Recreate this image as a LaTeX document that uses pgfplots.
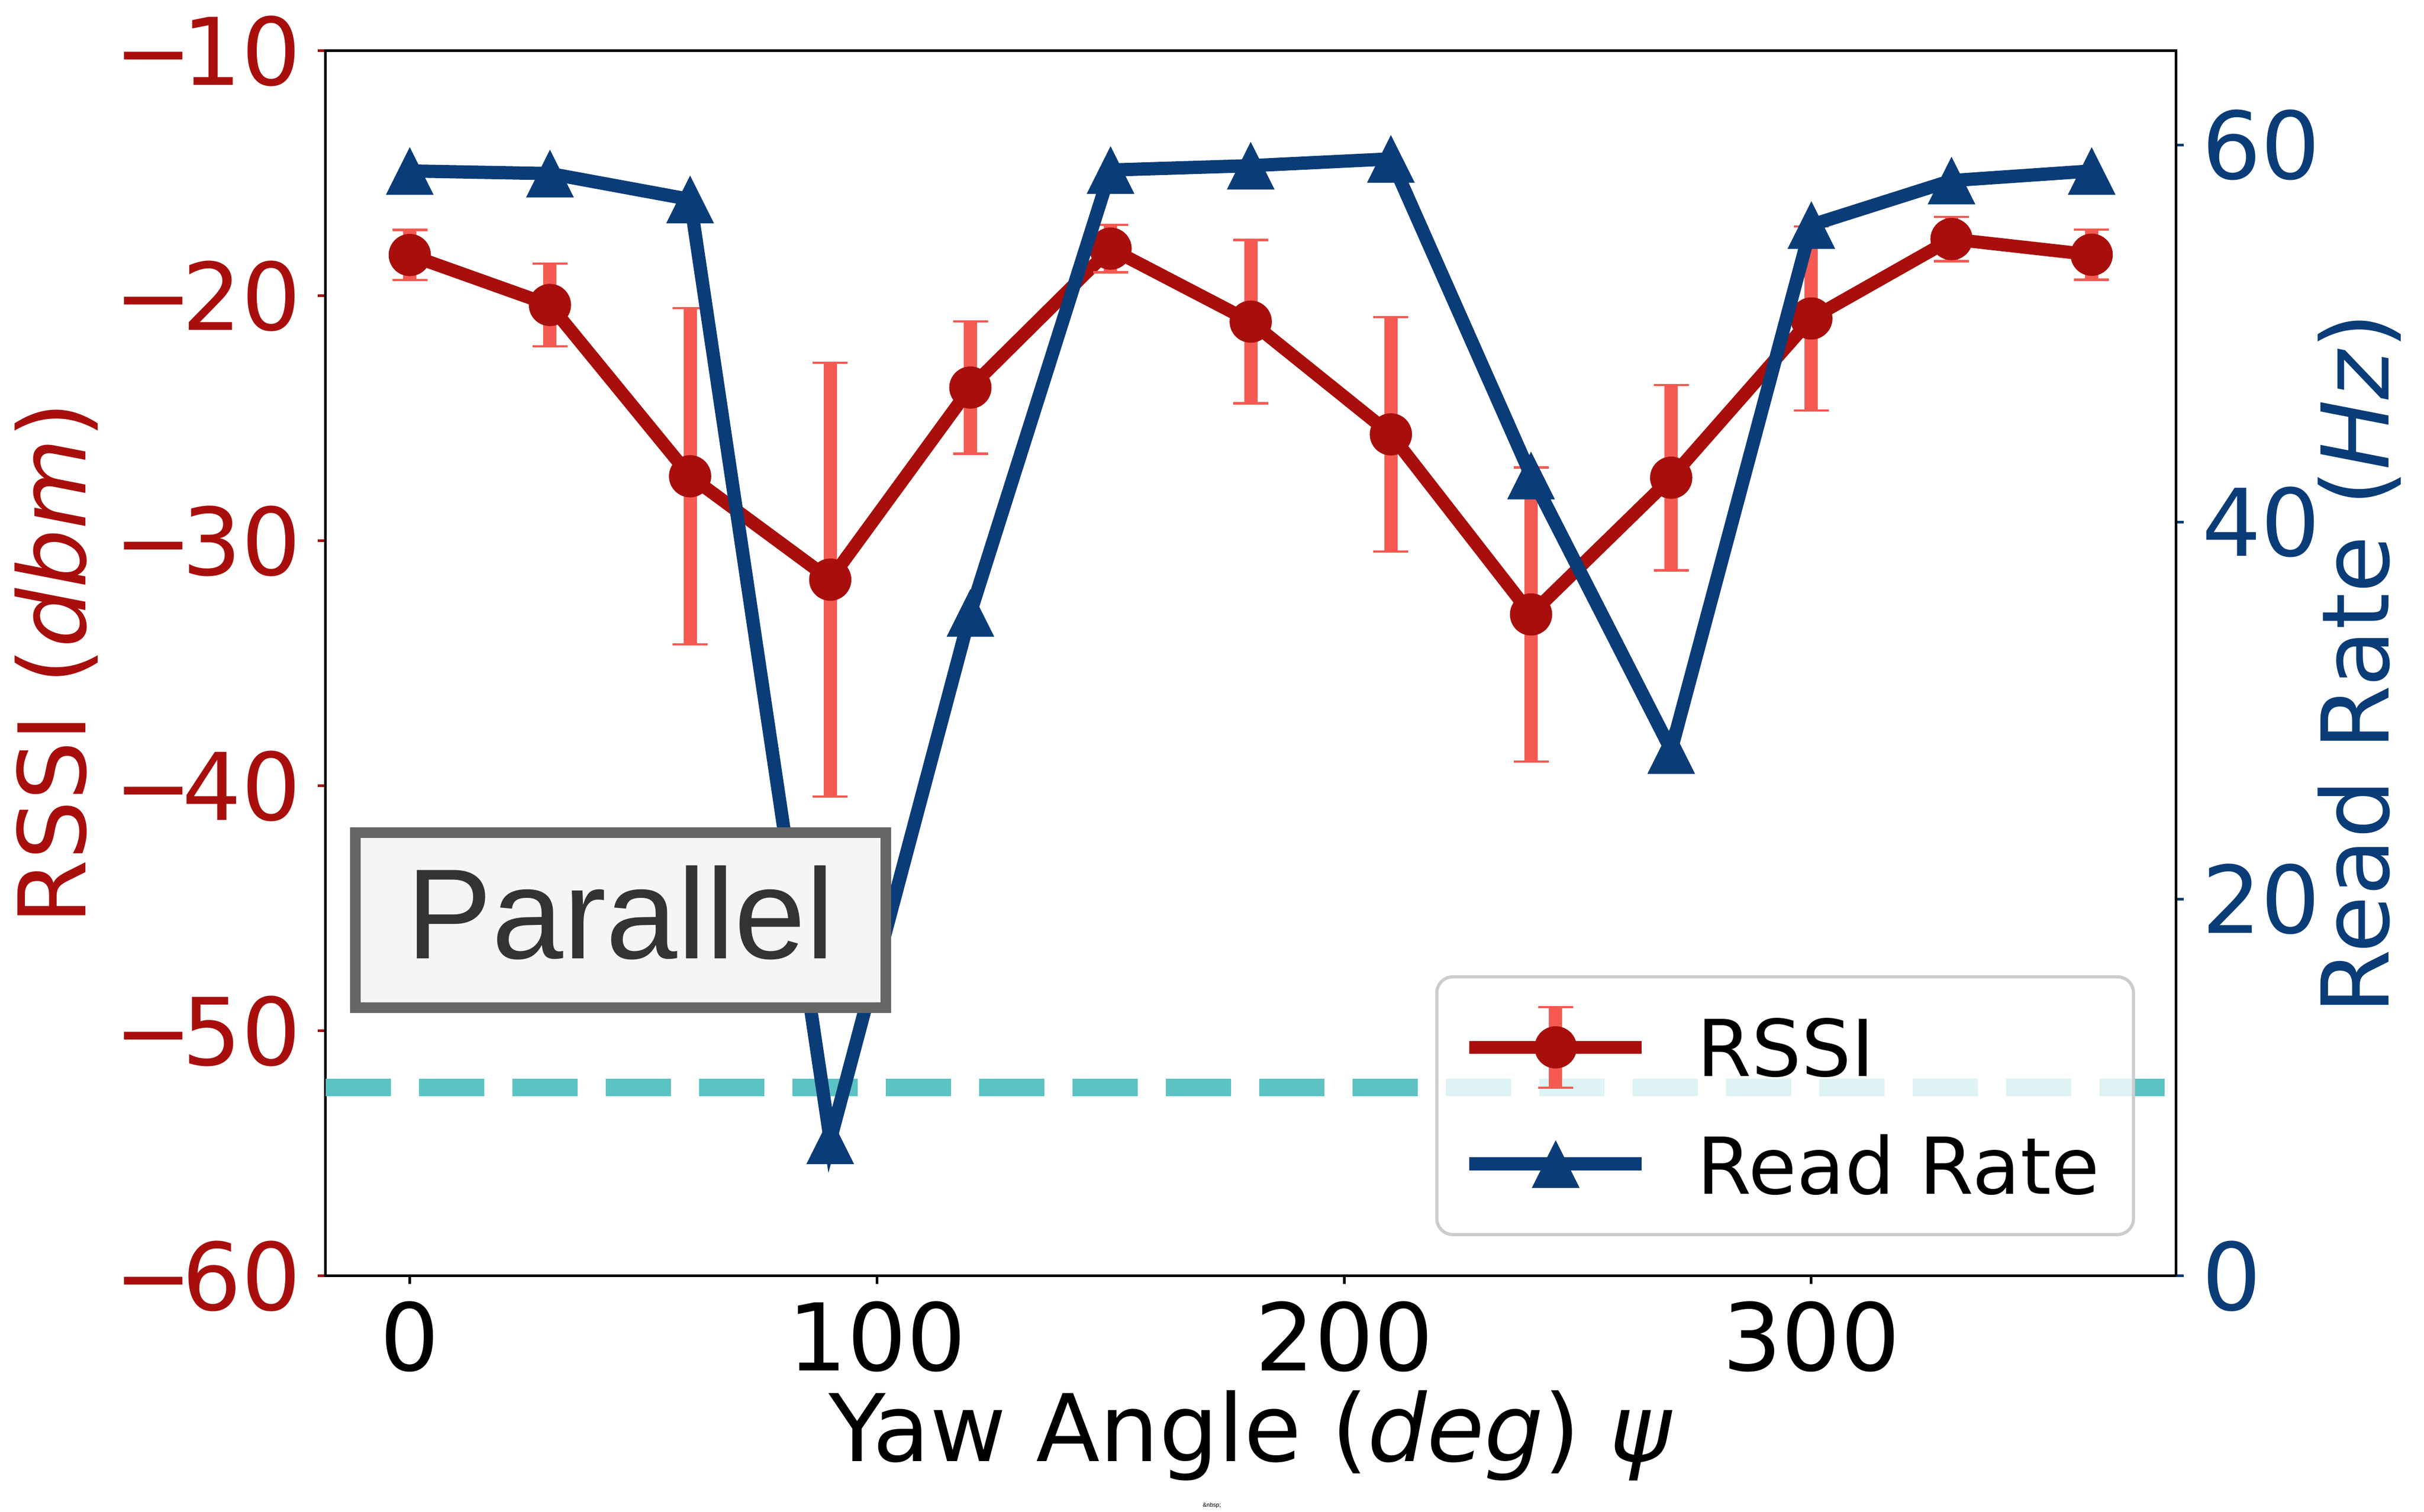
\documentclass[border=0pt]{standalone}
\usepackage{fontspec}
\setmainfont{DejaVu Sans}
\newfontfamily\parfont{Liberation Sans}
\usepackage{pgfplots}
\pgfplotsset{compat=1.18}
\usepackage{pgfplotstable}

\definecolor{rssic}{RGB}{168,15,12}
\definecolor{errc}{RGB}{245,90,82}
\definecolor{rrc}{RGB}{10,60,120}
\definecolor{tealc}{RGB}{91,195,195}
\definecolor{boxedge}{RGB}{102,102,102}
\definecolor{boxfill}{RGB}{245,245,245}
\definecolor{boxtext}{RGB}{51,51,51}

\pgfdeclareplotmark{mtri}{%
  \pgfpathmoveto{\pgfqpoint{0pt}{\pgfplotmarksize}}%
  \pgfpathlineto{\pgfqpoint{-\pgfplotmarksize}{-\pgfplotmarksize}}%
  \pgfpathlineto{\pgfqpoint{\pgfplotmarksize}{-\pgfplotmarksize}}%
  \pgfpathclose
  \pgfusepathqfill}

\pgfplotsset{
  rrlegend/.style={legend image code/.code={
    \draw[mark repeat=2, mark phase=2, sharp corners, fill opacity=1, draw opacity=1, ##1]
      plot coordinates {(0pt,0pt) (16.25pt,0pt) (32.5pt,0pt)};
  }},
  rssilegend/.style={legend image code/.code={
    \draw[errc, line width=2.5pt, sharp corners, draw opacity=1] (16.25pt,-7.6pt) -- (16.25pt,7.6pt);
    \draw[errc, line width=0.45pt, sharp corners, draw opacity=1] (12.95pt,-7.6pt) -- (19.55pt,-7.6pt) (12.95pt,7.6pt) -- (19.55pt,7.6pt);
    \draw[mark repeat=2, mark phase=2, sharp corners, fill opacity=1, draw opacity=1, ##1]
      plot coordinates {(0pt,0pt) (16.25pt,0pt) (32.5pt,0pt)};
  }},
}

\pgfplotstableread{
x y err
0 -18.33 1.02
30 -20.37 1.69
60 -27.36 6.86
90 -31.58 8.85
120 -23.74 2.70
150 -18.07 0.97
180 -21.05 3.33
210 -25.65 4.78
240 -33.00 6.00
270 -27.42 3.78
300 -20.92 3.76
330 -17.68 0.90
360 -18.32 1.02
}\rssitable

\pgfplotstableread{
x y
0 58.63
30 58.49
60 57.12
90 7.2
120 35.18
150 58.68
180 58.91
210 59.27
240 42.47
270 27.9
300 55.76
330 58.12
360 58.63
}\rrtable

\newcommand{\tickfont}{\fontsize{17.6}{21}\selectfont}
\newcommand{\mn}{−\kern-2pt}

\begin{document}
\begin{tikzpicture}
\begin{axis}[
  scale only axis, width=348.8pt, height=231pt,
  xmin=-18, xmax=378, ymin=-60, ymax=-10,
  clip=false,
  axis line style={black, line width=0.5pt},
  tick align=outside, major tick length=1.5pt,
  xtick={0,100,200,300}, xticklabels={0,100,200,300},
  ytick={-60,-50,-40,-30,-20,-10},
  yticklabels={\mn60,\mn50,\mn40,\mn30,\mn20,\mn10},
  xtick pos=bottom, ytick pos=left,
  xtick style={black, line width=0.5pt},
  ytick style={rssic, line width=0.5pt},
  tick label style={font=\tickfont},
  yticklabel style={text=rssic, anchor=east, inner sep=0pt, xshift=-3pt},
  xticklabel style={anchor=base, inner sep=0pt, yshift=-16.4pt},
  ylabel={RSSI (\textit{dbm})},
  ylabel style={text=rssic, font=\tickfont, at={(rel axis cs:0,0.5)}, anchor=base, yshift=45.2pt},
  xlabel={Yaw Angle (\textit{deg}) \textit{ψ}},
  xlabel style={font=\tickfont, at={(rel axis cs:0.5,0)}, anchor=base, yshift=-35pt},
]
\addplot[rssic, line width=2.45pt, mark=*, mark size=3.93pt,
  mark options={solid, fill=rssic, draw=rssic, line width=0.1pt},
  error bars/.cd, y dir=both, y explicit,
  error bar style={errc, line width=2.5pt},
  error mark options={rotate=90, errc, line width=0.45pt, mark size=3.3pt}]
  table[x=x, y=y, y error=err] {\rssitable};
\node[font=\parfont\fontsize{1.1}{1.3}\selectfont, anchor=base] at ([yshift=-43.6pt]rel axis cs:0.479,0) {\&nbsp;};
\end{axis}

\begin{axis}[
  scale only axis, width=348.8pt, height=231pt,
  xmin=-18, xmax=378, ymin=0, ymax=65,
  clip=false,
  axis x line=none, axis y line=right,
  axis line style={-, black, line width=0.5pt},
  tick align=outside, major tick length=1.5pt,
  ytick={0,20,40,60}, yticklabels={0,20,40,60},
  ytick pos=right,
  ytick style={rrc, line width=0.5pt},
  tick label style={font=\tickfont},
  yticklabel style={text=rrc, anchor=west, inner sep=0pt, xshift=3.2pt},
  ylabel={Read Rate (\textit{Hz})},
  ylabel style={text=rrc, font=\tickfont, at={(rel axis cs:1,0.5)}, anchor=base, yshift=-40.1pt},
  legend cell align=left,
  legend style={at={(0.978,0.0325)}, anchor=south east,
    draw=black!20, line width=0.6pt, rounded corners=3pt,
    fill=white, fill opacity=0.8, draw opacity=1, text opacity=1,
    inner xsep=4.9pt, inner ysep=2.3pt, column sep=9.2pt, row sep=0pt,
    font=\fontsize{14.8}{17.8}\selectfont,
    nodes={inner sep=0pt, text depth=0pt, minimum height=22pt}},
]
\addplot[tealc, line width=3.3pt, dash pattern=on 12.3pt off 5.3pt, forget plot]
  coordinates {(-18,10) (378,10)};

\addlegendimage{rssic, line width=2.45pt, mark=*, mark size=3.93pt,
  mark options={solid, fill=rssic, draw=rssic, line width=0.1pt}, rssilegend}
\addlegendentry{RSSI}

\addplot[rrc, line width=2.5pt, mark=mtri, mark size=4.5pt,
  mark options={solid, fill=rrc, draw=none}, rrlegend]
  table[x=x, y=y] {\rrtable};
\addlegendentry{Read Rate\hspace*{1.5pt}}

\node[draw=boxedge, line width=2pt, fill=boxfill, text=boxtext,
  minimum width=100pt, minimum height=33pt, inner sep=0pt,
  text height=14.6pt, text depth=0pt,
  font=\parfont\fontsize{24.2}{29}\selectfont]
  at (rel axis cs:0.1594,0.2905) {Parallel};
\end{axis}
\pgfresetboundingbox
\path[use as bounding box] (-61.4pt,-44.5pt) rectangle (395.6pt,240.6pt);
\end{tikzpicture}
\end{document}
